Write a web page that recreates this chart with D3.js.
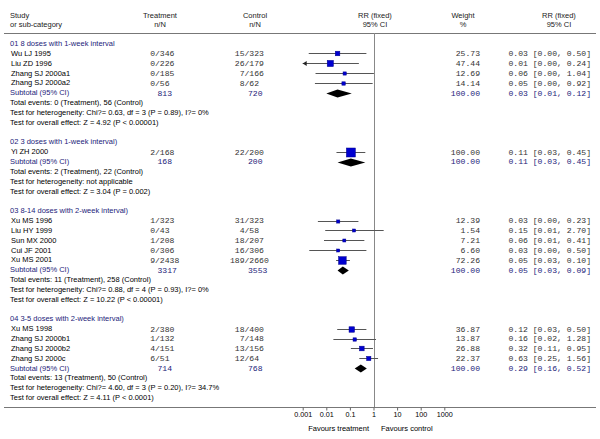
<!DOCTYPE html>
<html><head><meta charset="utf-8">
<script src="https://cdn.jsdelivr.net/npm/d3@7"></script>
<style>body{margin:0;background:#fff}svg{display:block}</style>
</head><body>
<svg id="c" width="600" height="439"></svg>
<script>
const groupTitles = ["01 8 doses with 1-week interval", "02 3 doses with 1-week interval)", "03 8-14 doses with 2-week interval)", "04 3-5 doses with 2-week interval)"];
const studyGroup = [0,0,0,0,1,2,2,2,2,2,3,3,3,3];
const studies = ["Wu LJ 1995","Liu ZD 1996","Zhang SJ 2000a1","Zhang SJ 2000a2","Yi ZH 2000","Xu MS 1996","Liu HY 1999","Sun MX 2000","Cui JF 2001","Xu MS 2001","Xu MS 1998","Zhang SJ 2000b1","Zhang SJ 2000b2","Zhang SJ 2000c"];
const treatEvents = [0,0,0,0,2,1,0,1,0,9,2,1,4,6];
const treatTotal = [346,226,185,56,168,323,43,208,306,2438,380,132,151,51];
const ctrlEvents = [15,26,7,8,22,31,4,18,16,189,18,7,13,12];
const ctrlTotal = [323,179,166,62,200,323,58,207,306,2660,400,148,156,64];
const weights = [25.73,47.44,12.69,14.14,100.00,12.39,1.54,7.21,6.60,72.26,36.87,13.87,26.88,22.37];
const rr = [0.030,0.0148,0.060,0.054,0.11,0.032,0.15,0.058,0.032,0.048,0.12,0.16,0.32,0.63];
const rrLow = [0.0018,0.0009,0.0035,0.0033,0.027,0.0044,0.009,0.008,0.0019,0.026,0.029,0.02,0.11,0.25];
const rrHigh = [0.50,0.24,1.04,0.92,0.45,0.23,2.70,0.41,0.50,0.10,0.50,1.28,0.95,1.56];
const subTreat = [813,168,3317,714];
const subCtrl = [720,200,3553,768];
const subRR = [0.03,0.11,0.05,0.29];
const subLow = [0.01,0.03,0.03,0.16];
const subHigh = [0.12,0.45,0.09,0.52];
const subWeight = [100,100,100,100];
const totalTreatEvents = [0,2,11,13];
const totalCtrlEvents = [56,22,258,50];
const heterogeneity = ["Chi?= 0.63, df = 3 (P = 0.89), I?= 0%", "not applicable", "Chi?= 0.88, df = 4 (P = 0.93), I?= 0%", "Chi?= 4.60, df = 3 (P = 0.20), I?= 34.7%"];
const overallEffect = ["Z = 4.92 (P < 0.00001)", "Z = 3.04 (P = 0.002)", "Z = 10.22 (P < 0.00001)", "Z = 4.11 (P < 0.0001)"];
const tickValues = [0.001,0.01,0.1,1,10,100,1000];
const tickLabels = ["0.001","0.01","0.1","1","10","100","1000"];

const svg = d3.select("#c");
svg.append("rect").attr("width",600).attr("height",439).attr("fill","#fff");
const SANS = "'Liberation Sans', Arial, sans-serif";
const MONO = "'Liberation Mono', 'Courier New', monospace";
const NAVY = "#23237a";
const x = d3.scaleLog().domain([0.001,1000]).range([302.7,444.3]);
const f2 = d3.format(".2f");

const rows = [];
groupTitles.forEach((g,gi)=>{
  if (gi>0) rows.push({type:"blank"});
  rows.push({type:"title", gi});
  studies.forEach((s,i)=>{ if(studyGroup[i]===gi) rows.push({type:"study", i}); });
  rows.push({type:"sub", gi});
  rows.push({type:"events", gi});
  rows.push({type:"het", gi});
  rows.push({type:"eff", gi});
});
const yRow = d3.scaleLinear().domain([0, rows.length-1]).range([43.5, 397.5]);
const yTop = 33, yAxis = 407;

function txt(xp, yp, s, opt={}) {
  return svg.append("text").attr("x",xp).attr("y",yp).attr("dy","0.35em")
    .attr("font-family", opt.mono?MONO:SANS).attr("font-size", opt.size || (opt.mono?8.1:7.5))
    .attr("text-anchor", opt.anchor||"start").attr("fill", opt.fill||"#000")
    .attr("xml:space","preserve").text(s);
}
const hc = "#222";
txt(10,15,"Study",{fill:hc}); txt(10,24.5,"or sub-category",{fill:hc});
txt(160,15,"Treatment",{anchor:"middle",fill:hc}); txt(160,24.5,"n/N",{anchor:"middle",fill:hc});
txt(255,15,"Control",{anchor:"middle",fill:hc}); txt(255,24.5,"n/N",{anchor:"middle",fill:hc});
txt(375,15,"RR (fixed)",{anchor:"middle",fill:hc}); txt(375,24.5,"95% CI",{anchor:"middle",fill:hc});
txt(463,15,"Weight",{anchor:"middle",fill:hc}); txt(463,24.5,"%",{anchor:"middle",fill:hc});
txt(559,15,"RR (fixed)",{anchor:"middle",fill:hc}); txt(559,24.5,"95% CI",{anchor:"middle",fill:hc});

svg.append("line").attr("x1",4).attr("x2",596).attr("y1",yTop+0.5).attr("y2",yTop+0.5).attr("stroke","#777").attr("stroke-width",1);
svg.append("line").attr("x1",4).attr("x2",596).attr("y1",yAxis+0.5).attr("y2",yAxis+0.5).attr("stroke","#777").attr("stroke-width",1);
svg.append("line").attr("x1",Math.round(x(1))+0.5).attr("x2",Math.round(x(1))+0.5).attr("y1",yTop).attr("y2",yAxis).attr("stroke","#888").attr("stroke-width",1);

const tSlash = 157.5, cSlash = 247;
const numFill = "#333";
function nN(slash, n, N, y, fill) {
  txt(slash-2.5, y, String(n), {mono:true, anchor:"end", fill});
  txt(slash-2.5, y, "/"+N, {mono:true, fill});
}
const plot = svg.append("g");
rows.forEach((r,ri)=>{
  const y = yRow(ri);
  if (r.type==="title") txt(10,y,groupTitles[r.gi],{fill:NAVY});
  else if (r.type==="study") {
    const i=r.i;
    txt(11,y,studies[i]);
    nN(tSlash, treatEvents[i], treatTotal[i], y, numFill);
    nN(cSlash, ctrlEvents[i], ctrlTotal[i], y, numFill);
    txt(480,y,f2(weights[i]),{mono:true,anchor:"end",fill:numFill});
    txt(591,y,`${f2(rr[i])} [${f2(rrLow[i])}, ${f2(rrHigh[i])}]`,{mono:true,anchor:"end",fill:numFill});
    const lo = Math.max(rrLow[i], 0.001), hi = Math.min(rrHigh[i],1000);
    const yy = Math.round(y)+0.5;
    plot.append("line").attr("x1",x(lo)).attr("x2",x(hi)).attr("y1",yy).attr("y2",yy)
      .attr("stroke","#555").attr("stroke-width",1);
    if (rrLow[i] < 0.001) {
      const ax = x(0.001);
      plot.append("path").attr("d",`M${ax},${yy}L${ax+4},${yy-2.5}L${ax+4},${yy+2.5}Z`).attr("fill","#222");
    }
    const s = Math.max(3, 0.9*Math.sqrt(weights[i]));
    plot.append("rect").attr("x",x(rr[i])-s/2).attr("y",yy-s/2).attr("width",s).attr("height",s)
      .attr("fill","#0000d0").attr("stroke","#00008a").attr("stroke-width",0.5);
  } else if (r.type==="sub") {
    const g=r.gi;
    txt(10,y,"Subtotal (95% CI)",{fill:NAVY});
    txt(tSlash,y,String(subTreat[g]),{mono:true,fill:NAVY});
    txt(cSlash+1,y,String(subCtrl[g]),{mono:true,fill:NAVY});
    txt(480,y,f2(subWeight[g]),{mono:true,anchor:"end",fill:NAVY});
    txt(591,y,`${f2(subRR[g])} [${f2(subLow[g])}, ${f2(subHigh[g])}]`,{mono:true,anchor:"end",fill:NAVY});
    const yy = Math.round(y)+0.5;
    plot.append("path").attr("d",`M${x(subLow[g])},${yy}L${x(subRR[g])},${yy-4}L${x(subHigh[g])},${yy}L${x(subRR[g])},${yy+4}Z`).attr("fill","#000");
  } else if (r.type==="events") {
    txt(10,y,`Total events: ${totalTreatEvents[r.gi]} (Treatment), ${totalCtrlEvents[r.gi]} (Control)`);
  } else if (r.type==="het") {
    txt(10,y,`Test for heterogeneity: ${heterogeneity[r.gi]}`);
  } else if (r.type==="eff") {
    txt(10,y,`Test for overall effect: ${overallEffect[r.gi]}`);
  }
});

const axis = d3.axisBottom(x).tickValues(tickValues).tickFormat((d,i)=>tickLabels[i]).tickSize(3).tickSizeOuter(0);
const ag = svg.append("g").attr("transform",`translate(0,${yAxis+0.5})`).call(axis);
ag.select(".domain").remove();
ag.selectAll(".tick line").attr("stroke","#666");
ag.selectAll(".tick text").attr("font-family",SANS).attr("font-size",7.2).attr("fill","#000").attr("y",7).attr("dy","0.35em");
txt(369,428,"Favours treatment",{anchor:"end"});
txt(381,428,"Favours control");
</script>
</body></html>
